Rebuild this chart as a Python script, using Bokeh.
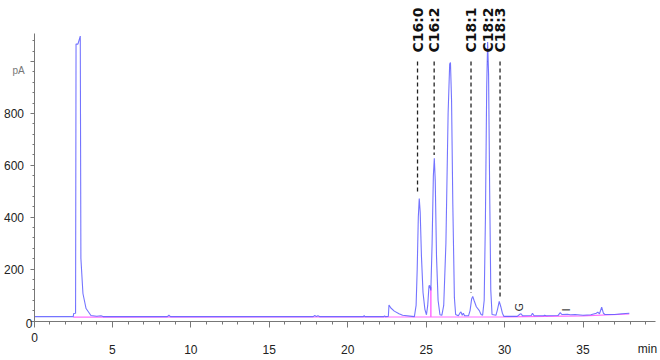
from bokeh.plotting import figure
from bokeh.models import FixedTicker, LabelSet, Label, ColumnDataSource, Range1d
from bokeh.core.properties import value
from bokeh.embed import file_html
from bokeh.resources import INLINE

# ---- data ----
trace_t = [0.00, 2.50, 2.53, 2.65, 2.68, 2.80, 2.95, 2.99, 3.12, 3.32, 3.63, 4.00, 4.27, 4.40,
           8.50, 8.60, 8.70, 17.80, 17.90, 18.00, 18.10, 18.20, 21.00, 21.05, 21.10,
           22.30, 22.35, 22.40, 22.59, 22.63, 22.75, 22.97, 23.27, 23.50, 24.10, 24.25,
           24.36, 24.43, 24.50, 24.56, 24.62, 24.70, 24.80, 24.92, 25.02, 25.10, 25.18,
           25.22, 25.30, 25.38, 25.46, 25.52, 25.58, 25.66, 25.76, 25.88, 26.00, 26.12,
           26.26, 26.40, 26.50, 26.55, 26.62, 26.70, 26.80, 26.88, 27.05, 27.15, 27.22,
           27.30, 27.37, 27.45, 27.70, 27.80, 27.90, 27.97, 28.05, 28.20, 28.39, 28.50,
           28.60, 28.70, 28.78, 28.86, 28.92, 28.98, 29.05, 29.12, 29.20, 29.45, 29.55,
           29.66, 29.76, 29.86, 29.95, 30.80, 31.00, 31.05, 31.15, 31.70, 31.78, 31.88,
           32.50, 32.55, 32.65, 33.40, 33.55, 33.65, 34.00, 34.20, 34.50, 35.00, 35.50,
           35.85, 35.94, 36.05, 36.19, 36.30, 36.40, 37.00, 37.50, 37.95]
trace_pa = [17, 17, 29, 30, 1067, 1067, 1098, 241, 106, 48, 21, 18, 20, 17,
            17, 22, 17, 17, 21, 17, 20, 17, 17, 21, 17,
            17, 20, 17, 18, 62, 50, 38, 28, 22, 18, 17,
            60, 200, 400, 472, 420, 250, 110, 45, 24, 60, 135,
            137, 118, 300, 560, 627, 540, 250, 80, 24, 22, 60,
            300, 800, 990, 996, 850, 450, 90, 25, 20, 30, 35,
            22, 30, 20, 20, 40, 85, 95, 80, 55, 40, 25,
            22, 80, 400, 900, 1075, 950, 500, 120, 25, 22, 45,
            76, 55, 30, 18, 18, 27, 28, 20, 21, 30, 20,
            20, 22, 20, 21, 32, 25, 26, 24, 25, 22, 24,
            30, 34, 28, 53, 30, 25, 25, 28, 30]

baseline_t = [2.50, 30.00, 35.00, 37.95]
baseline_pa = [15, 16, 20, 27]
drop_t = [25.30]
drop_top = [130]

peak_names = ["C16:0", "C16:2", "C18:1", "C18:2", "C18:3"]
peak_t = [24.45, 25.51, 27.86, 28.92, 29.71]
marker_top = [1000, 1000, 1000, 1000, 1000]
marker_bottom = [490, 640, 108, 1000, 92]

minor_names = ["G", "I"]
minor_t = [30.92, 33.97]

x_ticks = [0, 5, 10, 15, 20, 25, 30, 35]
y_ticks = [0, 200, 400, 600, 800, 1000]

# ---- figure: the frame covers the whole canvas, axes sit at fixed positions ----
W, H = 660, 360
XPX = 15.686   # px per minute
YPX = 0.2595   # px per pA
X0PX, Y0PX = 33.5, 320.5   # pixel position of (0 min, 0 pA)

def px_to_x(px):
    return (px - X0PX) / XPX

def py_to_y(py):
    return (Y0PX - py) / YPX

p = figure(width=W, height=H,
           x_range=Range1d(px_to_x(0), px_to_x(W)), y_range=Range1d(py_to_y(H), py_to_y(0)),
           output_backend="svg", toolbar_location=None,
           min_border_left=0, min_border_right=0, min_border_top=0, min_border_bottom=0)
p.outline_line_color = None
p.grid.visible = False
p.background_fill_color = "white"
p.border_fill_color = "white"

p.line(baseline_t, baseline_pa, line_color="#ff6cff", line_width=1.2)
p.segment(x0=drop_t, y0=[15], x1=drop_t, y1=drop_top, line_color="#ff6cff", line_width=1.5)
p.line(trace_t, trace_pa, line_color="#5c5cff", line_width=1.1, line_alpha=0.85)

msrc = ColumnDataSource(dict(x=peak_t, y0=marker_top, y1=marker_bottom, name=peak_names,
                             ly=[py_to_y(52)] * 5))
p.segment(x0="x", y0="y0", x1="x", y1="y1", source=msrc, line_color="#222222",
          line_width=1.3, line_dash="4 3")
p.add_layout(LabelSet(x="x", y="ly", text="name", source=msrc, angle=90, angle_units="deg",
                      text_align="left", text_baseline="middle", text_font=value("DejaVu Sans"),
                      text_font_style="bold", text_font_size="14px", text_color="#111111"))

gsrc = ColumnDataSource(dict(x=minor_t, y=[37, 37], name=minor_names))
p.add_layout(LabelSet(x="x", y="y", text="name", source=gsrc, angle=90, angle_units="deg",
                      text_align="left", text_baseline="middle", text_font=value("DejaVu Sans"),
                      text_font_size="11px", text_color="#333333"))

# axes
xa = p.xaxis[0]
xa.fixed_location = 0
xa.bounds = (0, px_to_x(655))
xa.ticker = FixedTicker(ticks=x_ticks, minor_ticks=list(range(0, 40)))
xa.major_label_overrides = {0: ""}
xa.major_tick_out = 6
xa.major_tick_in = 0
xa.minor_tick_out = 3
xa.minor_tick_in = 0
xa.major_label_standoff = 18
xa.major_label_text_font = "Liberation Sans"
xa.major_label_text_font_size = "12px"
xa.major_label_text_color = "#222222"
xa.axis_line_color = "#777777"
xa.major_tick_line_color = "#777777"
xa.minor_tick_line_color = "#777777"

ya = p.yaxis[0]
ya.fixed_location = 0
ya.bounds = (0, py_to_y(33))
ya.ticker = FixedTicker(ticks=y_ticks, minor_ticks=list(range(0, 1101, 40)))
ya.major_label_overrides = {0: "", 1000: ""}
ya.major_tick_out = 4
ya.major_tick_in = 0
ya.minor_tick_out = 2
ya.minor_tick_in = 0
ya.major_label_standoff = 6
ya.major_label_text_font = "Liberation Sans"
ya.major_label_text_font_size = "12px"
ya.major_label_text_color = "#222222"
ya.axis_line_color = "#777777"
ya.major_tick_line_color = "#777777"
ya.minor_tick_line_color = "#777777"

for txt, px, py, size, col in [("0", 34, 337, "12px", "#222222"),
                              ("0", 28.5, 323, "12px", "#222222"),
                              ("pA", 18, 70, "10px", "#777777"),
                              ("min", 647, 348, "12px", "#222222")]:
    p.add_layout(Label(x=px_to_x(px), y=py_to_y(py), text=txt, text_align="center",
                       text_baseline="middle", text_font="Liberation Sans",
                       text_font_size=size, text_color=col))

open("out.html", "w").write(file_html(p, INLINE))
